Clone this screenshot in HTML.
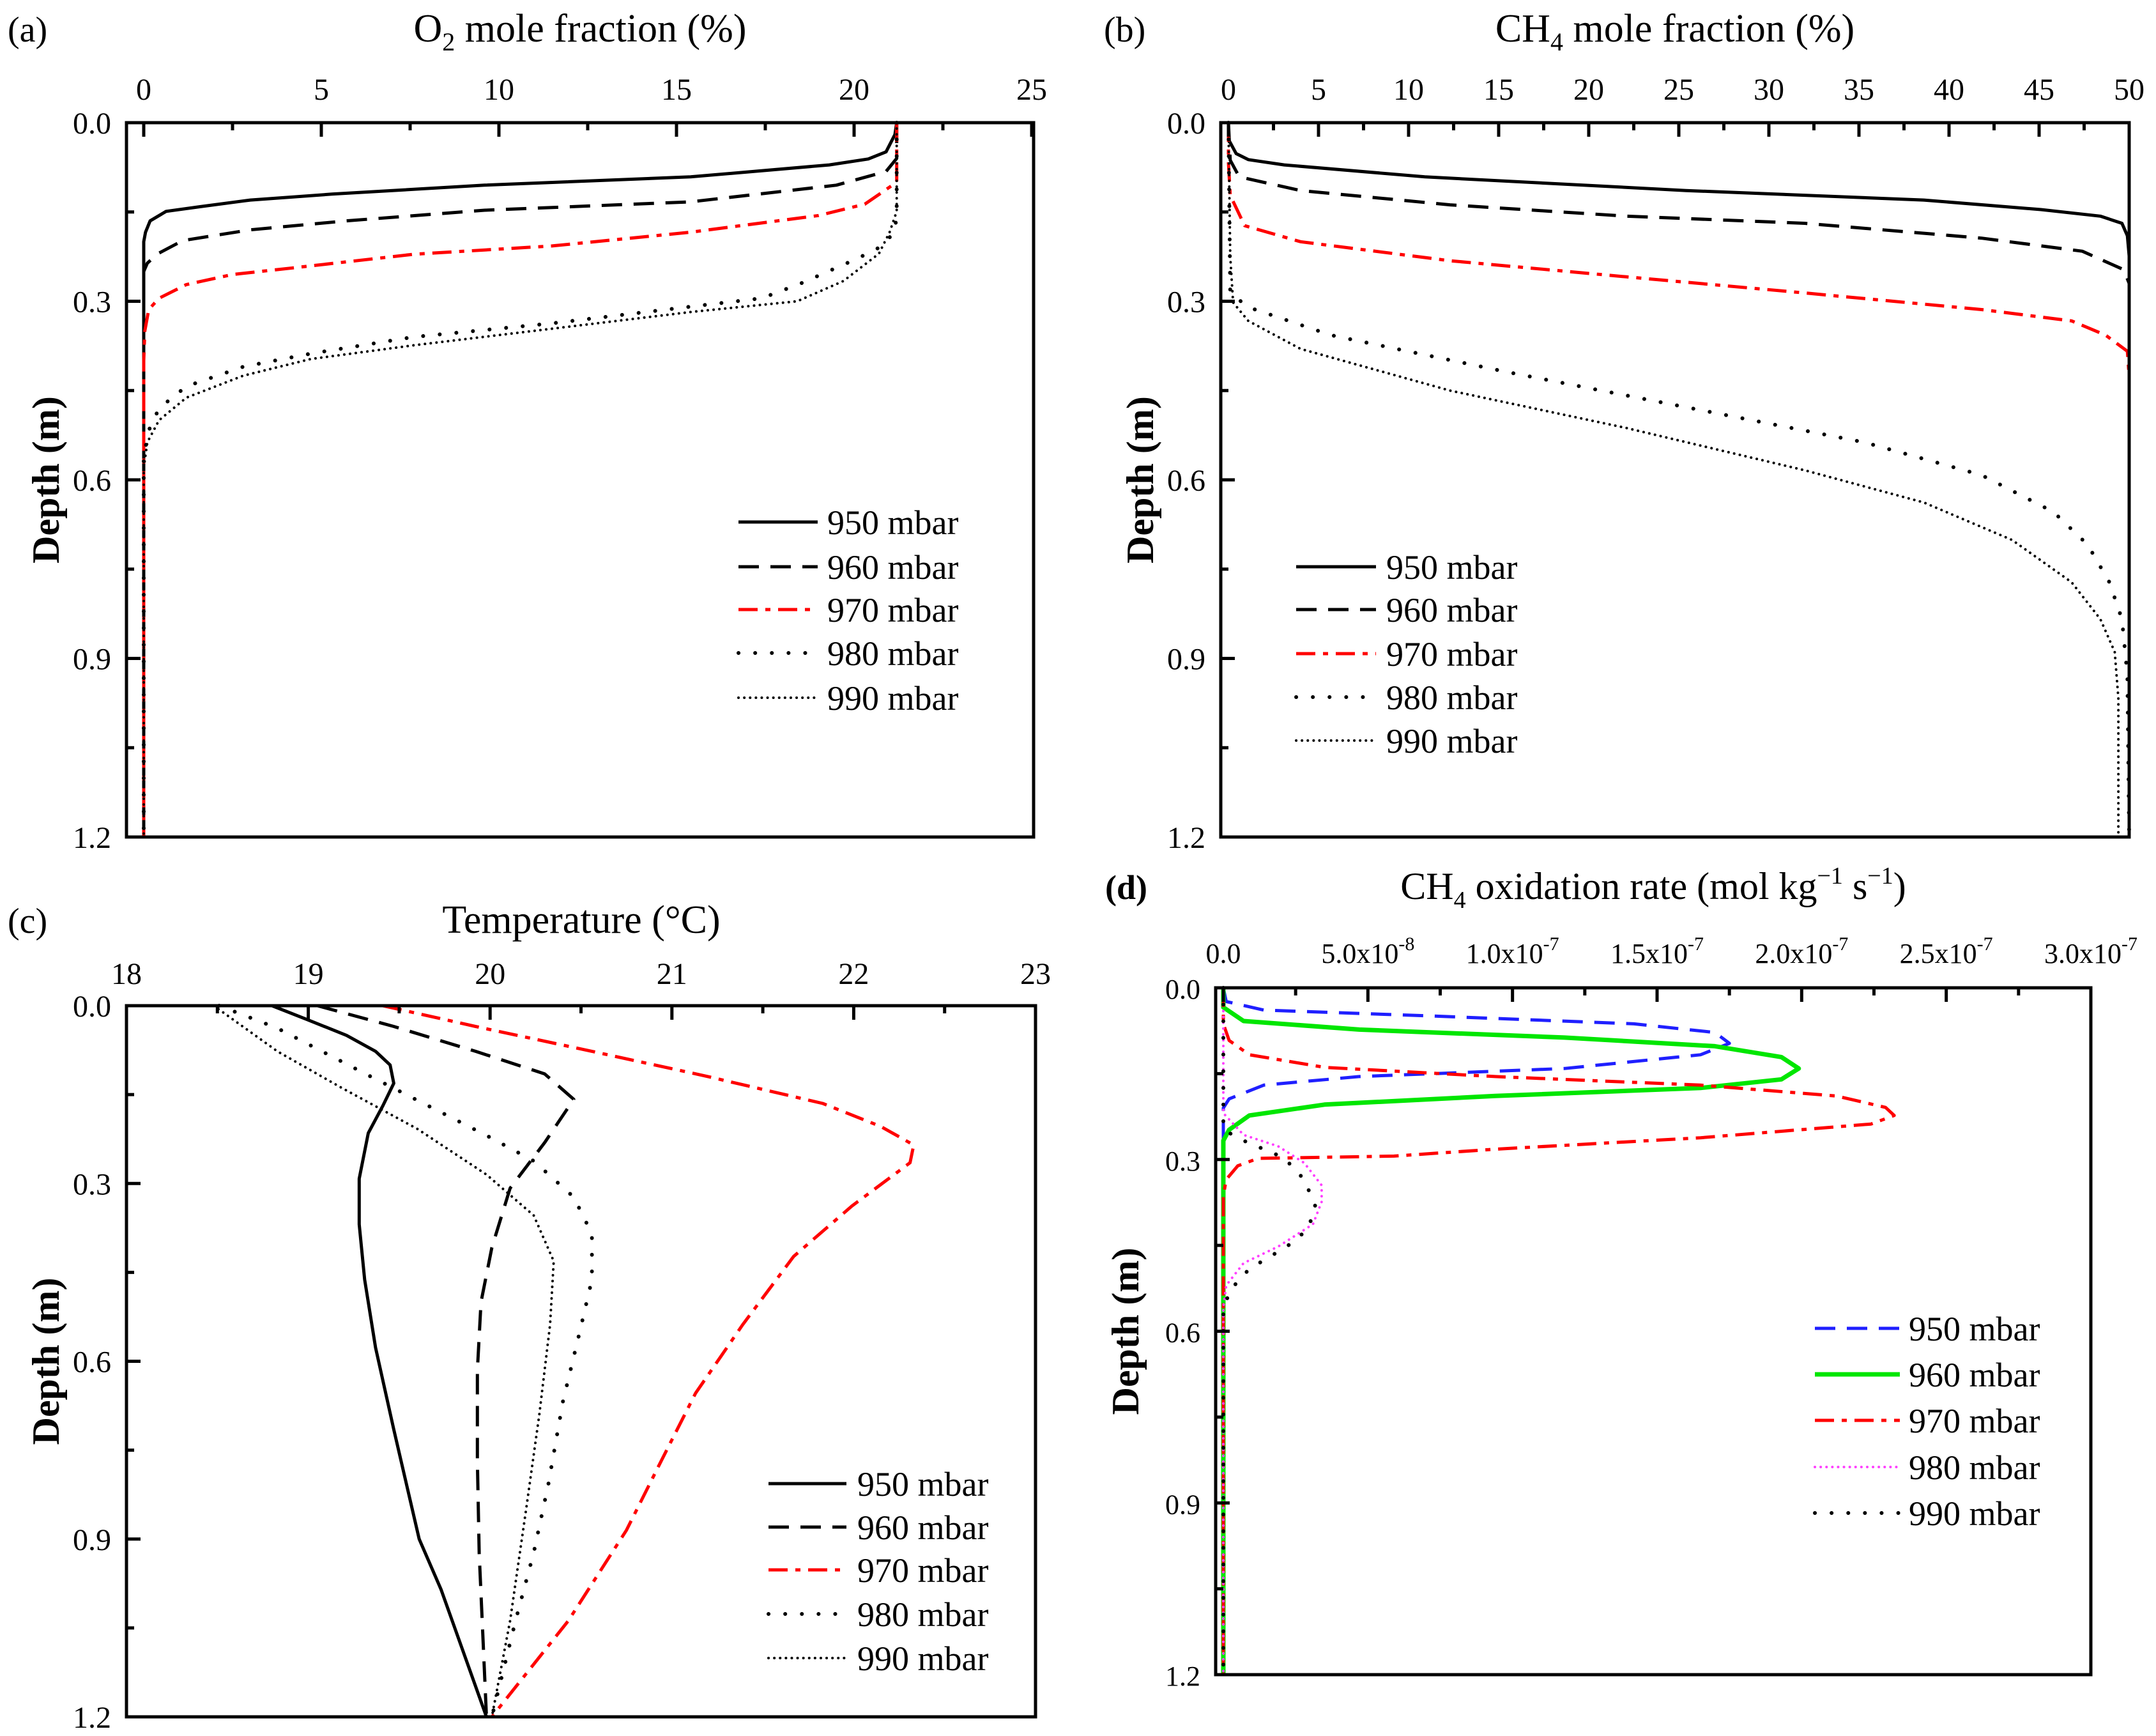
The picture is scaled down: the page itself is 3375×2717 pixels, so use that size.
<!DOCTYPE html>
<html><head><meta charset="utf-8">
<style>
html,body{margin:0;padding:0;background:#fff;}
svg{display:block;}
text{font-family:"Liberation Serif",serif;fill:#000;}
</style></head>
<body>
<svg id="fig" width="3375" height="2717" viewBox="0 0 3375 2717" font-family="Liberation Serif, serif" xmlns="http://www.w3.org/2000/svg"></svg>
<script>
// ---------- Panel (a): O2 mole fraction ----------
const aTicks = [0,5,10,15,20,25];
const aD950 = [0,0.02,0.049,0.061,0.071,0.091,0.105,0.12,0.13,0.141,0.149,0.165,0.184,0.2,1.2];
const aV950 = [21.2,21.15,20.9,20.4,19.3,15.4,9.6,5.3,3.0,1.6,0.63,0.18,0.05,0,0];
const aD960 = [0,0.06,0.082,0.105,0.133,0.147,0.165,0.18,0.198,0.22,0.236,0.25,1.2];
const aV960 = [21.2,21.2,20.9,19.5,15.4,9.6,5.7,3.0,1.1,0.4,0.1,0,0];
const aD970 = [0,0.1,0.137,0.156,0.184,0.207,0.221,0.244,0.255,0.272,0.295,0.314,0.35,0.4,1.2];
const aV970 = [21.2,21.2,20.3,19.0,15.4,11.5,7.6,4.2,2.5,1.2,0.43,0.14,0.03,0,0];
const aD980 = [0,0.15,0.184,0.21,0.228,0.27,0.295,0.309,0.337,0.36,0.388,0.41,0.443,0.48,0.516,0.56,1.2];
const aV980 = [21.2,21.2,21.15,20.7,20.1,18.5,17.4,15.4,11.5,7.6,4.7,2.8,1.2,0.43,0.15,0,0];
const aD990 = [0,0.149,0.184,0.22,0.266,0.3,0.318,0.346,0.374,0.397,0.425,0.462,0.5,0.537,0.58,1.2];
const aV990 = [21.2,21.2,21.0,20.7,19.7,18.4,15.4,11.5,7.6,4.7,2.8,1.2,0.43,0.1,0,0];

// ---------- Panel (b): CH4 mole fraction ----------
const bTicks = [0,5,10,15,20,25,30,35,40,45,50];
const bD950 = [0,0.028,0.052,0.062,0.071,0.091,0.114,0.13,0.146,0.157,0.169,0.19,0.224,1.2];
const bV950 = [0,0,0.43,1.1,3.1,10.9,25.4,38.6,45.1,48.4,49.6,49.9,50,50];
const bD960 = [0,0.063,0.091,0.114,0.138,0.157,0.169,0.194,0.216,0.247,0.27,1.2];
const bV960 = [0,0.1,0.6,4,12.3,22.1,32,41.8,47.4,49.7,50,50];
const bD970 = [0,0.067,0.122,0.173,0.2,0.232,0.259,0.286,0.314,0.333,0.357,0.384,0.427,1.2];
const bV970 = [0,0,0.1,0.9,4,12.3,22.1,32,41.8,46.8,48.7,49.9,50,50];
const bD980 = [0,0.286,0.31,0.357,0.419,0.478,0.537,0.592,0.654,0.709,0.772,0.834,0.928,1.2];
const bV980 = [0,0.1,1.1,5.7,15.5,25.4,35.3,41.8,45.8,47.7,48.9,49.6,49.9,50];
const bD990 = [0,0.224,0.302,0.333,0.38,0.45,0.513,0.584,0.638,0.701,0.772,0.834,0.889,0.967,1.2];
const bV990 = [0,0.1,0.26,1.1,4,12.3,22.1,32,38.6,43.5,46.8,48.4,49.2,49.4,49.4];

// ---------- Panel (c): Temperature ----------
const cTicks = [18,19,20,21,22,23];
const cD950 = [0,0.023,0.05,0.077,0.1,0.131,0.169,0.215,0.292,0.369,0.462,0.577,0.715,0.9,0.985,1.2];
const cV950 = [18.8,18.99,19.21,19.37,19.45,19.47,19.41,19.33,19.28,19.28,19.31,19.37,19.47,19.61,19.73,19.98];
const cD960 = [0,0.035,0.077,0.115,0.158,0.231,0.308,0.408,0.5,0.615,0.769,0.923,1.2];
const cV960 = [19.05,19.47,19.92,20.3,20.46,20.3,20.11,20.01,19.95,19.93,19.93,19.94,19.98];
const cD970 = [0,0.035,0.077,0.119,0.165,0.204,0.235,0.265,0.338,0.423,0.538,0.654,0.769,0.885,1.038,1.2];
const cV970 = [19.41,19.92,20.56,21.19,21.83,22.15,22.33,22.31,21.99,21.67,21.39,21.13,20.94,20.75,20.43,20.01];
const cD980 = [0,0.038,0.073,0.119,0.169,0.219,0.262,0.323,0.385,0.462,0.554,0.669,0.808,0.923,1.038,1.2];
const cV980 = [18.51,18.83,19.05,19.34,19.66,19.98,20.24,20.46,20.56,20.56,20.49,20.4,20.32,20.24,20.14,20.01];
const cD990 = [0,0.077,0.138,0.208,0.285,0.354,0.431,0.538,0.692,0.846,1.038,1.2];
const cV990 = [18.48,18.83,19.18,19.6,19.98,20.24,20.35,20.33,20.27,20.2,20.11,20.01];

// ---------- Panel (d): CH4 oxidation rate (units of 1e-8) ----------
const dTicks = [0,5,10,15,20,25,30];
const dTickLabels = ["0.0","5.0x10","1.0x10","1.5x10","2.0x10","2.5x10","3.0x10"];
const dTickExps = ["","-8","-7","-7","-7","-7","-7"];
const dD950 = [0,0.024,0.039,0.049,0.063,0.078,0.097,0.117,0.141,0.155,0.17,0.194,0.21,1.2];
const dV950 = [0,0.1,1.4,7.1,14.2,17,17.5,16.5,11.8,4.7,1.4,0.2,0,0];
const dD960 = [0,0.034,0.058,0.073,0.087,0.102,0.121,0.141,0.16,0.175,0.189,0.204,0.223,0.248,0.267,1.2];
const dV960 = [0,0,0.7,4.7,11.8,17,19.3,19.9,19.3,16.5,9.4,3.5,0.9,0.2,0,0];
const dD970 = [0,0.063,0.092,0.117,0.139,0.155,0.17,0.189,0.209,0.223,0.238,0.262,0.282,0.294,0.298,0.311,0.335,0.364,1.2];
const dV970 = [0,0,0.2,0.9,3.5,9.4,16.5,21.2,22.9,23.2,22.4,16.5,9.4,5.9,1.2,0.5,0.1,0,0];
const dD980 = [0,0.219,0.257,0.277,0.306,0.345,0.374,0.413,0.452,0.481,0.52,0.559,1.2];
const dV980 = [0,0,0.7,1.9,2.8,3.4,3.4,3.1,1.9,0.7,0.1,0,0];
const dD990 = [0,0.248,0.267,0.297,0.335,0.384,0.423,0.452,0.491,0.53,0.568,1.2];
const dV990 = [0,0,0.7,2.1,2.8,3.2,2.9,2.2,0.9,0.2,0,0];

const yTicks = [0,0.3,0.6,0.9,1.2];
const yTickLabels = ["0.0","0.3","0.6","0.9","1.2"];
const seriesNames = ["950 mbar","960 mbar","970 mbar","980 mbar","990 mbar"];

const NS = "http://www.w3.org/2000/svg";
const svg = document.getElementById("fig");
function el(tag, attrs, parent){
  const e = document.createElementNS(NS, tag);
  for (const k in attrs) e.setAttribute(k, attrs[k]);
  (parent||svg).appendChild(e);
  return e;
}

const STY = {
  solid:{dash:"", cap:"butt"},
  dash:{dash:"32 18", cap:"butt"},
  dashdot:{dash:"30 12 8 12", cap:"butt"},
  dot:{dash:"0.1 26", cap:"round"},
  sdot:{dash:"0.1 9", cap:"round"}
};

function panel(cfg){
  const g = el("g", {});
  
  
  const {x0,x1,y0,y1,xmin,xmax,xv0,xv1} = cfg;
  const sx = v => xv0 + (v - xmin) / (xmax - xmin) * (xv1 - xv0);
  const sy = d => y0 + d / 1.2 * (y1 - y0);
  cfg.series.forEach((s, i) => {
    let dstr = "";
    for (let k = 0; k < s.d.length; k++) {
      dstr += (k ? "L" : "M") + sx(s.v[k]).toFixed(1) + " " + sy(s.d[k]).toFixed(1);
    }
    const st = STY[s.style];
    const p = el("path", {d:dstr, fill:"none", stroke:s.color, "stroke-width":s.w||5, "stroke-dasharray":st.dash, "stroke-linecap":st.cap, "stroke-linejoin":"round"}, g);
    
    
  });
  const fr = el("rect", {x:x0, y:y0, width:x1-x0, height:y1-y0, fill:"none", stroke:"#000", "stroke-width":cfg.fw||5}, g);
  
  
  const xt = cfg.xTicks;
  for (let k = 0; k < xt.length; k++) {
    const X = sx(xt[k]);
    el("line", {x1:X, x2:X, y1:y0, y2:y0+22, stroke:"#000", "stroke-width":5}, g);
    if (k < xt.length - 1) {
      const Xm = sx((xt[k] + xt[k+1]) / 2);
      el("line", {x1:Xm, x2:Xm, y1:y0, y2:y0+12, stroke:"#000", "stroke-width":5}, g);
    }
    const t = el("text", {x:X, y:cfg.xLabY, "font-size":cfg.tfs||48, "text-anchor":"middle", "font-family":"Liberation Serif, serif"}, g);
    
    
    if (cfg.xLabels) {
      t.textContent = cfg.xLabels[k];
      if (cfg.xExps[k]) {
        const sp = el("tspan", {"font-size":30, dy:-20}, t);
        sp.textContent = cfg.xExps[k];
      }
    } else {
      t.textContent = xt[k];
    }
  }
  for (let k = 0; k < yTicks.length; k++) {
    const Y = sy(yTicks[k]);
    el("line", {x1:x0, x2:x0+22, y1:Y, y2:Y, stroke:"#000", "stroke-width":5}, g);
    if (k < yTicks.length - 1) {
      const Ym = sy(yTicks[k] + 0.15);
      el("line", {x1:x0, x2:x0+12, y1:Ym, y2:Ym, stroke:"#000", "stroke-width":5}, g);
    }
    const t = el("text", {x:x0-24, y:Y+17, "font-size":cfg.tfs||48, "text-anchor":"end", "font-family":"Liberation Serif, serif"}, g);
    t.textContent = yTickLabels[k];
    
    
  }
  const cy = (y0 + y1) / 2;
  const yt = el("text", {x:cfg.ylabX, y:cy, "font-size":60, "font-weight":"bold", "text-anchor":"middle", "font-family":"Liberation Serif, serif", transform:`rotate(-90 ${cfg.ylabX} ${cy})`, dy:20}, g);
  yt.textContent = "Depth (m)";
  
  
  const L = cfg.legend;
  cfg.series.forEach((s, i) => {
    const Y = L.rows[i];
    const st = STY[s.style];
    const ln = el("line", {x1:L.x1, x2:L.x2, y1:Y, y2:Y, stroke:s.color, "stroke-width":s.w||5, "stroke-dasharray":st.dash, "stroke-linecap":st.cap}, g);
    
    
    const t = el("text", {x:L.tx, y:Y+19, "font-size":54, "font-family":"Liberation Serif, serif"}, g);
    t.textContent = seriesNames[i];
    
    
  });
}

panel({name:"panel-a", prefix:"a", x0:198, x1:1618, y0:192, y1:1310, xmin:0, xmax:25, xv0:225, xv1:1615,
  xTicks:aTicks, xLabY:156, ylabX:72,
  legend:{x1:1156, x2:1280, tx:1295, rows:[817,887,954,1022,1092]},
  series:[
    {d:aD950, v:aV950, color:"#000", style:"solid"},
    {d:aD960, v:aV960, color:"#000", style:"dash"},
    {d:aD970, v:aV970, color:"#f00", style:"dashdot"},
    {d:aD980, v:aV980, color:"#000", style:"dot", w:6},
    {d:aD990, v:aV990, color:"#000", style:"sdot", w:4}
  ]});

panel({name:"panel-b", prefix:"b", x0:1911, x1:3333, y0:192, y1:1310, xmin:0, xmax:50, xv0:1923, xv1:3333,
  xTicks:bTicks, xLabY:156, ylabX:1785,
  legend:{x1:2029, x2:2154, tx:2170, rows:[887,954,1023,1091,1159]},
  series:[
    {d:bD950, v:bV950, color:"#000", style:"solid"},
    {d:bD960, v:bV960, color:"#000", style:"dash"},
    {d:bD970, v:bV970, color:"#f00", style:"dashdot"},
    {d:bD980, v:bV980, color:"#000", style:"dot", w:6},
    {d:bD990, v:bV990, color:"#000", style:"sdot", w:4}
  ]});

panel({name:"panel-c", prefix:"c", x0:198, x1:1621, y0:1574, y1:2687, xmin:18, xmax:23, xv0:198, xv1:1621,
  xTicks:cTicks, xLabY:1540, ylabX:72,
  legend:{x1:1203, x2:1325, tx:1342, rows:[2322,2390,2457,2526,2595]},
  series:[
    {d:cD950, v:cV950, color:"#000", style:"solid"},
    {d:cD960, v:cV960, color:"#000", style:"dash"},
    {d:cD970, v:cV970, color:"#f00", style:"dashdot"},
    {d:cD980, v:cV980, color:"#000", style:"dot", w:6},
    {d:cD990, v:cV990, color:"#000", style:"sdot", w:4}
  ]});

panel({name:"panel-d", prefix:"d", x0:1903, x1:3273, y0:1546, y1:2621, xmin:0, xmax:30, xv0:1915, xv1:3273,
  xTicks:dTicks, xLabels:dTickLabels, xExps:dTickExps, xLabY:1507, ylabX:1762, tfs:44,
  legend:{x1:2841, x2:2974, tx:2988, rows:[2079,2151,2223,2296,2368]},
  series:[
    {d:dD950, v:dV950, color:"#1f1fff", style:"dash"},
    {d:dD960, v:dV960, color:"#00e600", style:"solid", w:7},
    {d:dD970, v:dV970, color:"#f00", style:"dashdot"},
    {d:dD980, v:dV980, color:"#ff40ff", style:"sdot", w:4},
    {d:dD990, v:dV990, color:"#000", style:"dot", w:6}
  ]});

function txt(x, y, s, size, name, anchor, weight){
  const t = el("text", {x:x, y:y, "font-size":size, "text-anchor":anchor||"start", "font-weight":weight||"normal", "font-family":"Liberation Serif, serif"});
  
  
  return t;
}
function titleSub(x, y, pre, sub, post, name){
  const t = txt(x, y, "", 62, name, "middle");
  const a = el("tspan", {}, t); a.textContent = pre;
  const b = el("tspan", {"font-size":40, dy:14}, t); b.textContent = sub;
  const c = el("tspan", {dy:-14}, t); c.textContent = post;
}
txt(12, 65, "", 56, "panel-label-a").textContent = "(a)";
txt(1728, 65, "", 56, "panel-label-b").textContent = "(b)";
txt(12, 1460, "", 56, "panel-label-c").textContent = "(c)";
txt(1730, 1407, "", 54, "panel-label-d", "start", "bold").textContent = "(d)";
titleSub(908, 65, "O", "2", " mole fraction (%)", "a-x-axis-title");
titleSub(2622, 65, "CH", "4", " mole fraction (%)", "b-x-axis-title");
txt(910, 1460, "", 62, "c-x-axis-title", "middle").textContent = "Temperature (\u00B0C)";
(function(){
  const t = txt(2588, 1407, "", 60, "d-x-axis-title", "middle");
  const parts = [["CH",{}],["4",{"font-size":38,dy:14}],[" oxidation rate (mol kg",{dy:-14}],["\u22121",{"font-size":38,dy:-24}],[" s",{dy:24}],["\u22121",{"font-size":38,dy:-24}],[")",{dy:24}]];
  parts.forEach(p => { const s = el("tspan", p[1], t); s.textContent = p[0]; });
})();
</script>
</body></html>
